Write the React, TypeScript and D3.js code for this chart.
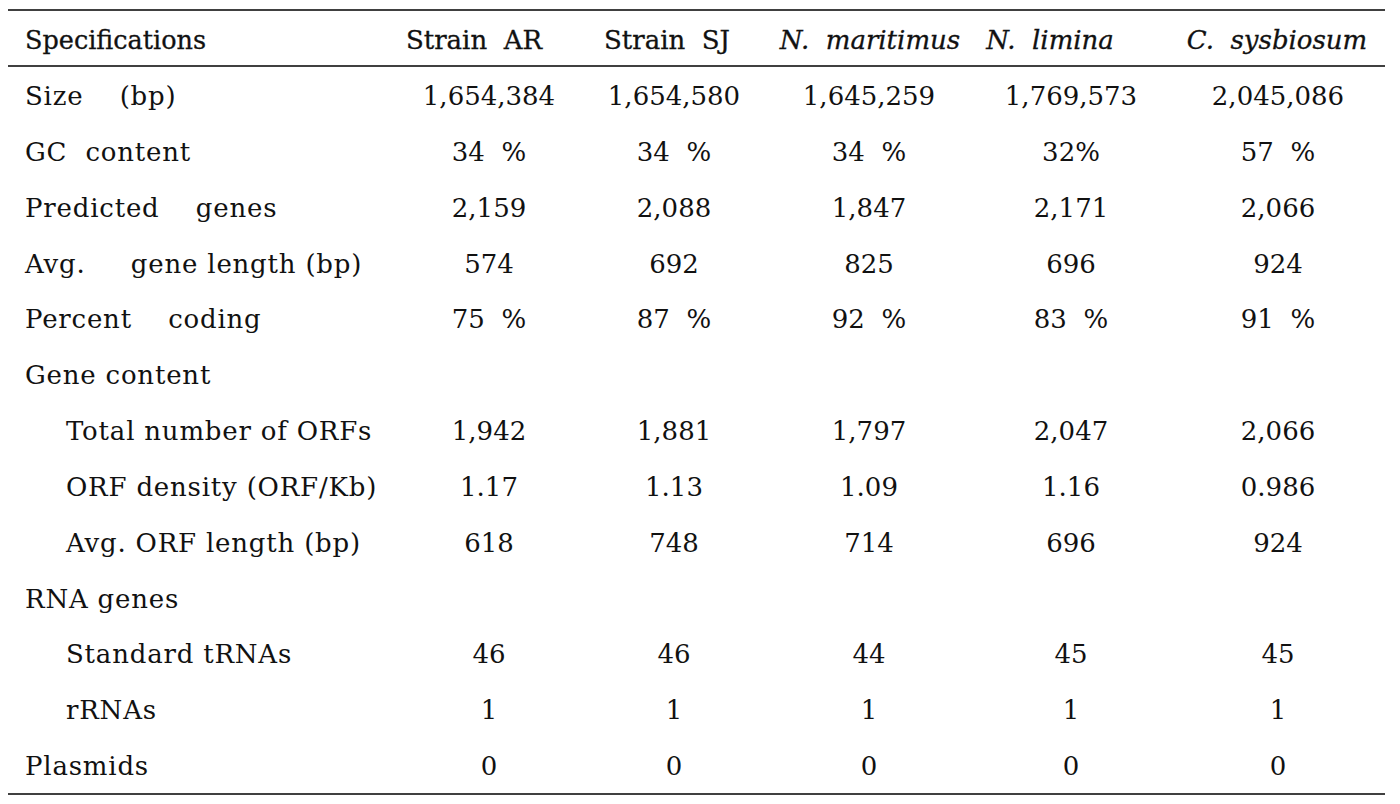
import React from 'react';
import * as d3 from 'd3';

// column headers
const columns = ['Strain AR', 'Strain SJ', 'N. maritimus', 'N. limina', 'C. sysbiosum'];
const italicCols = ['N. maritimus', 'N. limina', 'C. sysbiosum'];

// row labels ( indented rows are sub-items )
const specs = [
  'Size    (bp)',
  'GC  content',
  'Predicted    genes',
  'Avg.     gene length (bp)',
  'Percent    coding',
  'Gene content',
  'Total number of ORFs',
  'ORF density (ORF/Kb)',
  'Avg. ORF length (bp)',
  'RNA genes',
  'Standard tRNAs',
  'rRNAs',
  'Plasmids',
];
const indented = ['Total number of ORFs', 'ORF density (ORF/Kb)', 'Avg. ORF length (bp)', 'Standard tRNAs', 'rRNAs'];

const strainAR = ['1,654,384', '34  %', '2,159', '574', '75  %', '', '1,942', '1.17', '618', '', '46', '1', '0'];
const strainSJ = ['1,654,580', '34  %', '2,088', '692', '87  %', '', '1,881', '1.13', '748', '', '46', '1', '0'];
const maritimus = ['1,645,259', '34  %', '1,847', '825', '92  %', '', '1,797', '1.09', '714', '', '44', '1', '0'];
const limina = ['1,769,573', '32%', '2,171', '696', '83  %', '', '2,047', '1.16', '696', '', '45', '1', '0'];
const sysbiosum = ['2,045,086', '57  %', '2,066', '924', '91  %', '', '2,066', '0.986', '924', '', '45', '1', '0'];

const values = [strainAR, strainSJ, maritimus, limina, sysbiosum];

const W = 1400;
const H = 804;
const FONT = '"DejaVu Serif", "Liberation Serif", serif';

export default function App() {
  const y = d3.scalePoint<string>().domain(specs).range([96, 766]);
  const xVal = d3.scaleOrdinal<string, number>().domain(columns).range([489, 674, 869, 1071, 1278]);
  const xHead = d3.scaleOrdinal<string, number>().domain(columns).range([474, 667, 870, 1050, 1277]);
  const headY = 40;
  const ruleX = [8, 1385];
  const rules = [10, 66, 794];

  return (
    <svg width={W} height={H} style={{ position: 'absolute', left: 0, top: 0, background: '#fff' }}>
      <rect width={W} height={H} fill="#fff" />
      {rules.map((r) => (
        <line key={r} x1={ruleX[0]} x2={ruleX[1]} y1={r} y2={r} stroke="#000" strokeWidth={1.5} />
      ))}
      <g fontFamily={FONT} fontSize={26} fill="#111">
        <text x={25} y={headY} dy="0.35em" fontSize={25.5} stroke="#111" strokeWidth={0.3}>Specifications</text>
        {columns.map((c) => (
          <text
            key={c}
            x={xHead(c)}
            y={headY}
            dy="0.35em"
            textAnchor="middle"
            fontStyle={italicCols.includes(c) ? 'italic' : 'normal'}
            stroke="#111"
            strokeWidth={0.3}
            style={{ whiteSpace: 'pre' }}
          >
            {c.replace(' ', '  ')}
          </text>
        ))}
        {specs.map((s) => (
          <text
            key={s}
            x={indented.includes(s) ? 66 : 25}
            y={y(s)}
            dy="0.35em"
            letterSpacing={0.8}
            style={{ whiteSpace: 'pre' }}
          >
            {s}
          </text>
        ))}
        {values.map((col, ci) =>
          col.map((v, ri) =>
            v ? (
              <text
                key={ci + '-' + ri}
                x={xVal(columns[ci])}
                y={y(specs[ri])}
                dy="0.35em"
                textAnchor="middle"
                style={{ whiteSpace: 'pre' }}
              >
                {v}
              </text>
            ) : null
          )
        )}
      </g>
    </svg>
  );
}
